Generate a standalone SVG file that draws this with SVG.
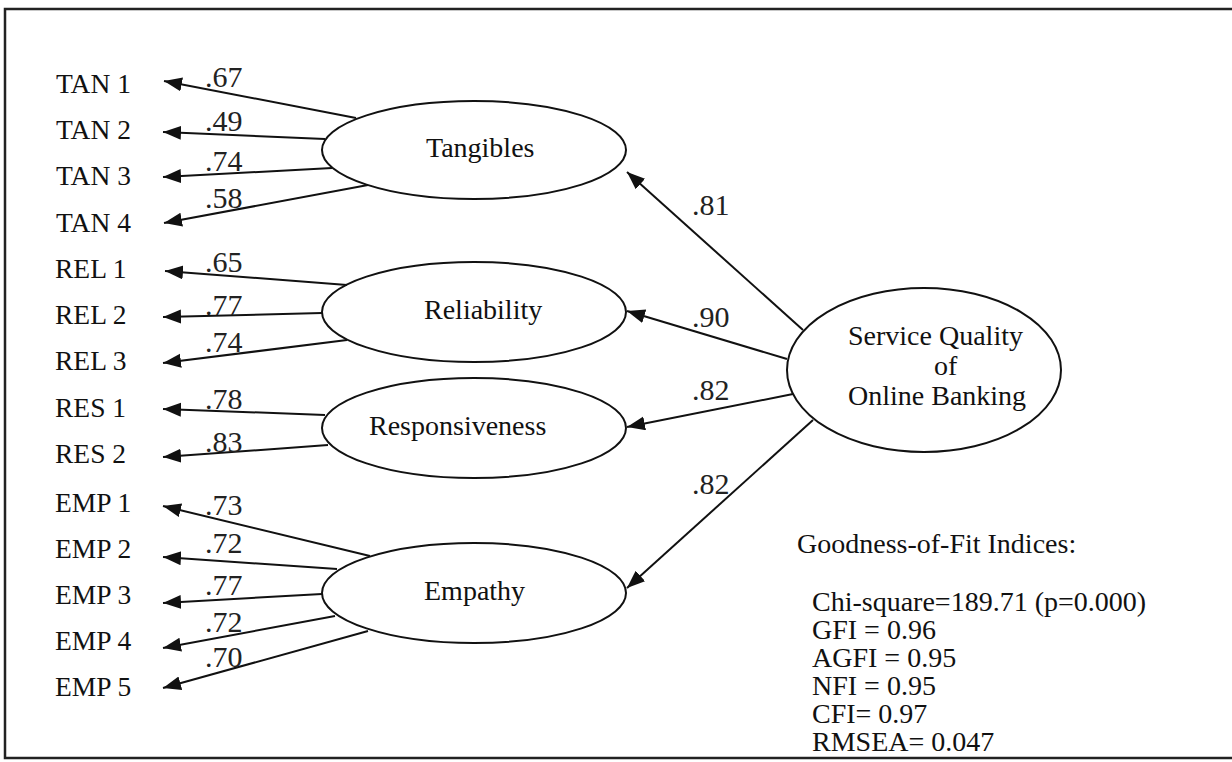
<svg xmlns="http://www.w3.org/2000/svg" width="1232" height="762" viewBox="0 0 1232 762">
<style>
.t{font-family:"Liberation Serif","Times New Roman",serif;fill:#111;}
.lab{font-size:27.5px;}
.node{font-size:28px;}
.num{font-family:"Liberation Serif","Times New Roman",serif;font-size:30px;fill:#222;}
.fit{font-size:28px;}
.e{fill:none;stroke:#111;stroke-width:2;}
.c line{stroke:#111;stroke-width:2;}
</style>
<defs>
<marker id="ah" markerUnits="userSpaceOnUse" markerWidth="20" markerHeight="16" refX="18" refY="7" orient="auto">
<path d="M0,0 L18,7 L0,14 z" fill="#111"/>
</marker>
</defs>
<rect x="0" y="0" width="1232" height="762" fill="#fff"/>
<rect x="5" y="9" width="1232" height="749" fill="none" stroke="#222" stroke-width="2.5"/>

<g id="indicators">
<text class="t lab" x="56" y="93">TAN 1</text>
<text class="t lab" x="56" y="139">TAN 2</text>
<text class="t lab" x="56" y="185">TAN 3</text>
<text class="t lab" x="56" y="232">TAN 4</text>
<text class="t lab" x="55" y="278">REL 1</text>
<text class="t lab" x="55" y="324">REL 2</text>
<text class="t lab" x="55" y="370">REL 3</text>
<text class="t lab" x="55" y="417">RES 1</text>
<text class="t lab" x="55" y="463">RES 2</text>
<text class="t lab" x="55" y="512">EMP 1</text>
<text class="t lab" x="55" y="558">EMP 2</text>
<text class="t lab" x="55" y="604">EMP 3</text>
<text class="t lab" x="55" y="650">EMP 4</text>
<text class="t lab" x="55" y="696">EMP 5</text>
</g>

<g id="tangibles">
<ellipse class="e" cx="474" cy="150" rx="152" ry="49"/>
<text class="t node" x="426" y="157">Tangibles</text>
</g>
<g id="reliability">
<ellipse class="e" cx="474" cy="312" rx="152" ry="50"/>
<text class="t node" x="424" y="319">Reliability</text>
</g>
<g id="responsiveness">
<ellipse class="e" cx="474" cy="428" rx="152" ry="50"/>
<text class="t node" x="369" y="435">Responsiveness</text>
</g>
<g id="empathy">
<ellipse class="e" cx="474" cy="593" rx="152" ry="50"/>
<text class="t node" x="424" y="600">Empathy</text>
</g>
<g id="service-quality">
<ellipse class="e" cx="924" cy="370" rx="137" ry="82"/>
<text class="t node" x="848" y="345">Service Quality</text>
<text class="t node" x="934" y="375">of</text>
<text class="t node" x="848" y="405">Online Banking</text>
</g>

<g id="connectors" class="c">
<line x1="356" y1="118" x2="164" y2="81" marker-end="url(#ah)"/>
<line x1="325" y1="139" x2="163" y2="132" marker-end="url(#ah)"/>
<line x1="332" y1="168" x2="163" y2="177" marker-end="url(#ah)"/>
<line x1="368" y1="185" x2="164" y2="223" marker-end="url(#ah)"/>
<line x1="347" y1="285" x2="165" y2="271" marker-end="url(#ah)"/>
<line x1="322" y1="313" x2="163" y2="317" marker-end="url(#ah)"/>
<line x1="347" y1="340" x2="163" y2="363" marker-end="url(#ah)"/>
<line x1="325" y1="415" x2="163" y2="409" marker-end="url(#ah)"/>
<line x1="328" y1="445" x2="163" y2="457" marker-end="url(#ah)"/>
<line x1="370" y1="556" x2="163" y2="506" marker-end="url(#ah)"/>
<line x1="337" y1="569" x2="163" y2="557" marker-end="url(#ah)"/>
<line x1="322" y1="594" x2="163" y2="603" marker-end="url(#ah)"/>
<line x1="335" y1="616" x2="163" y2="648" marker-end="url(#ah)"/>
<line x1="368" y1="631" x2="163" y2="688" marker-end="url(#ah)"/>
<line x1="803" y1="330" x2="627" y2="172" marker-end="url(#ah)"/>
<line x1="787" y1="359" x2="627" y2="311" marker-end="url(#ah)"/>
<line x1="793" y1="394" x2="627" y2="427" marker-end="url(#ah)"/>
<line x1="813" y1="420" x2="627" y2="588" marker-end="url(#ah)"/>
</g>

<g id="loadings">
<text class="num" x="205" y="87">.67</text>
<text class="num" x="205" y="131">.49</text>
<text class="num" x="205" y="171">.74</text>
<text class="num" x="205" y="208">.58</text>
<text class="num" x="205" y="272">.65</text>
<text class="num" x="205" y="315">.77</text>
<text class="num" x="205" y="352">.74</text>
<text class="num" x="205" y="409">.78</text>
<text class="num" x="205" y="452">.83</text>
<text class="num" x="205" y="515">.73</text>
<text class="num" x="205" y="553">.72</text>
<text class="num" x="205" y="595">.77</text>
<text class="num" x="205" y="632">.72</text>
<text class="num" x="205" y="667">.70</text>
<text class="num" x="692" y="215">.81</text>
<text class="num" x="692" y="327">.90</text>
<text class="num" x="692" y="400">.82</text>
<text class="num" x="692" y="494">.82</text>
</g>

<g id="fit-indices">
<text class="t fit" x="797" y="553">Goodness-of-Fit Indices:</text>
<text class="t fit" x="812" y="611">Chi-square=189.71 (p=0.000)</text>
<text class="t fit" x="812" y="639">GFI = 0.96</text>
<text class="t fit" x="812" y="667">AGFI = 0.95</text>
<text class="t fit" x="812" y="695">NFI = 0.95</text>
<text class="t fit" x="812" y="723">CFI= 0.97</text>
<text class="t fit" x="812" y="751">RMSEA= 0.047</text>
</g>
</svg>
